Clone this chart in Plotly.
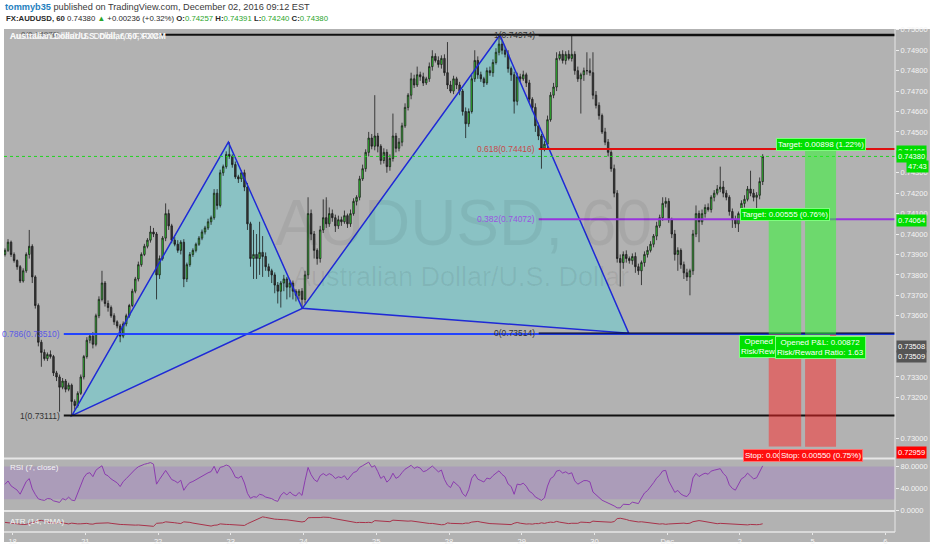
import numpy as np
import plotly.graph_objects as go

# ---------------- data ----------------
first_open_e5 = 73900
closes_e5 = [
    73920, 73960, 73900, 73870, 73840, 73770, 73820, 73900, 73940, 73790,
    73650, 73470, 73420, 73390, 73410, 73400, 73320, 73300, 73250, 73280,
    73240, 73260, 73180, 73160, 73220, 73300, 73400, 73480, 73500, 73460,
    73600, 73680, 73760, 73660, 73640, 73600, 73570, 73550, 73500, 73560,
    73600, 73650, 73720, 73780, 73850, 73900, 73940, 73970, 74010, 74000,
    73800, 73880, 73980, 74100, 74040, 73970, 73950, 73920, 73960, 73780,
    73850, 73900, 73920, 73950, 73980, 74010, 74030, 74060, 74080, 74200,
    74140, 74300, 74330, 74390, 74380, 74340, 74280, 74270, 74300, 74230,
    74050, 73880, 73900, 73880, 73910, 73890, 73840, 73820, 73800, 73750,
    73720, 73760, 73780, 73740, 73760, 73720, 73700, 73720, 73680, 73800,
    74100, 74000, 73920, 73880, 74020, 74080, 74050, 74100, 74080, 74040,
    74070, 74060, 74090, 74050, 74100, 74160, 74180, 74270, 74320, 74400,
    74470, 74430, 74480, 74430, 74360, 74400, 74330, 74370, 74480, 74420,
    74450, 74530, 74620, 74680, 74760, 74730, 74780, 74770, 74740, 74760,
    74820, 74870, 74850, 74830, 74860, 74790, 74730, 74700, 74760, 74730,
    74700, 74600, 74540, 74600, 74760, 74850, 74780, 74760, 74740, 74800,
    74790, 74840, 74890, 74930, 74900, 74880, 74810, 74780, 74650, 74770,
    74760, 74780, 74740, 74660, 74620, 74530, 74480, 74420, 74440, 74560,
    74680, 74720, 74860, 74880, 74850, 74880, 74860, 74880, 74800, 74760,
    74780, 74800, 74800, 74790, 74680, 74630, 74580, 74500, 74450, 74400,
    74320, 74200, 73880, 73860, 73900, 73880, 73870, 73890, 73840, 73820,
    73860, 73900, 73920, 73950, 73990, 74040, 74080, 74150, 74160, 74070,
    74000, 73900, 73920, 73850, 73810, 73790, 73820, 74000, 74100, 74060,
    74100, 74130, 74120, 74180, 74200, 74220, 74230, 74200, 74180, 74110,
    74070, 74050, 74100, 74150, 74170, 74220, 74200, 74180, 74190, 74257,
    74380,
]
upper_wick_e5 = [
    10, 15, 8, 10, 6, 8, 12, 10, 80, 10,
    8, 10, 12, 15, 10, 20, 8, 10, 12, 15,
    10, 12, 8, 10, 10, 12, 8, 15, 10, 20,
    10, 15, 60, 10, 15, 10, 12, 8, 10, 12,
    10, 8, 12, 10, 15, 10, 12, 10, 30, 20,
    10, 15, 10, 50, 20, 10, 15, 20, 10, 15,
    10, 12, 10, 8, 10, 12, 10, 15, 10, 20,
    20, 15, 10, 15, 60, 10, 15, 10, 12, 15,
    20, 10, 120, 100, 150, 80, 20, 15, 10, 12,
    15, 10, 20, 10, 15, 12, 10, 10, 15, 20,
    80, 20, 15, 10, 20, 90, 100, 30, 20, 15,
    20, 15, 25, 10, 20, 15, 10, 15, 20, 15,
    30, 20, 200, 15, 10, 20, 15, 20, 110, 15,
    20, 15, 20, 10, 30, 20, 40, 15, 20, 10,
    20, 30, 15, 20, 15, 20, 150, 20, 15, 10,
    15, 10, 20, 15, 20, 50, 20, 15, 10, 15,
    20, 15, 20, 44, 20, 15, 20, 10, 15, 20,
    15, 20, 10, 15, 10, 20, 15, 10, 15, 20,
    15, 20, 30, 15, 20, 15, 20, 90, 15, 20,
    10, 15, 90, 60, 100, 20, 15, 10, 20, 15,
    10, 20, 15, 20, 15, 20, 10, 15, 20, 15,
    10, 15, 20, 15, 10, 20, 15, 30, 20, 15,
    10, 20, 15, 10, 15, 20, 10, 20, 40, 15,
    20, 15, 20, 10, 15, 20, 100, 30, 15, 10,
    15, 20, 10, 15, 20, 15, 90, 20, 15, 20,
    11,
]
lower_wick_e5 = [
    10, 8, 12, 10, 15, 10, 8, 10, 20, 30,
    15, 20, 70, 10, 12, 10, 15, 20, 120, 10,
    15, 10, 69, 20, 10, 8, 12, 10, 15, 20,
    10, 12, 10, 15, 20, 10, 15, 12, 30, 10,
    12, 10, 8, 10, 12, 10, 8, 10, 12, 15,
    120, 20, 10, 15, 20, 15, 10, 12, 20, 40,
    15, 10, 12, 10, 8, 10, 12, 10, 15, 10,
    20, 10, 15, 10, 12, 15, 10, 20, 15, 20,
    30, 40, 100, 100, 80, 100, 20, 30, 40, 40,
    60, 80, 40, 60, 50, 40, 30, 20, 40, 20,
    20, 30, 40, 30, 20, 15, 20, 15, 20, 30,
    15, 20, 10, 20, 15, 10, 20, 15, 10, 15,
    20, 15, 20, 30, 20, 15, 30, 20, 15, 20,
    15, 20, 10, 15, 20, 15, 10, 20, 15, 10,
    15, 20, 10, 15, 20, 15, 20, 10, 15, 20,
    20, 20, 70, 15, 10, 15, 20, 15, 20, 10,
    15, 20, 10, 15, 20, 15, 20, 30, 60, 20,
    15, 10, 20, 15, 20, 30, 20, 100, 15, 20,
    10, 15, 20, 10, 15, 20, 10, 15, 20, 15,
    170, 30, 20, 15, 20, 15, 20, 10, 15, 20,
    15, 20, 20, 117, 30, 20, 15, 20, 30, 20,
    70, 20, 15, 10, 15, 20, 10, 15, 20, 15,
    20, 30, 80, 20, 30, 20, 90, 20, 15, 100,
    15, 20, 10, 15, 20, 10, 15, 20, 15, 20,
    40, 20, 40, 15, 20, 10, 15, 20, 70, 20,
    17,
]

day_boundary_bars = [2.5, 26.5, 50.5, 74.5, 98.5, 122.5, 146.5, 170.5, 194.5, 218.5, 242.5, 266.5, 290.5]
day_labels = ['18', '21', '22', '23', '24', '25', '28', '29', '30', 'Dec', '2', '5', '6']

price_ticks = [0.730, 0.732, 0.733, 0.736, 0.737, 0.738, 0.739, 0.740, 0.741, 0.742,
               0.743, 0.745, 0.746, 0.747, 0.748, 0.749, 0.750]
rsi_ticks = [0, 40, 80]
rsi_band = [20, 80]

pattern_names = ['X', 'A', 'B', 'C', 'D']
pattern_bars = [22.06, 73.7, 98.1, 163.3, 205.8]
pattern_prices = [0.73111, 0.74450, 0.73636, 0.74974, 0.73514]

fib1_levels = ['1', '0.786', '0']
fib1_prices = [0.73111, 0.73510, 0.74976]
fib1_start_bar = 19.4
fib2_levels = ['1', '0.618', '0.382', '0']
fib2_prices = [0.74974, 0.74416, 0.74072, 0.73514]
fib2_start_bar = 176.1

pos_start_bars = [252.0, 264.0]
pos_end_bars = [262.7, 274.2]
pos_entry = [0.73509, 0.73508]
pos_target = [0.74064, 0.74406]
pos_stop = [0.72959, 0.72958]

last_change = 0.00236
last_change_pct = 0.32
countdown = '47:43'

# ---------------- derived series ----------------
closes = np.array(closes_e5) / 1e5
opens = np.concatenate([[first_open_e5 / 1e5], closes[:-1]])
highs = np.maximum(opens, closes) + np.array(upper_wick_e5) / 1e5
lows = np.minimum(opens, closes) - np.array(lower_wick_e5) / 1e5
bars = np.arange(len(closes))
N = len(closes)

# RSI(7) with Wilder smoothing
n = 7
delta = np.diff(closes, prepend=closes[0])
gains = np.clip(delta, 0, None)
losses = np.clip(-delta, 0, None)
ag = np.zeros(N); al = np.zeros(N)
ag[0] = gains[1:n + 1].mean(); al[0] = losses[1:n + 1].mean()
for i in range(1, N):
    ag[i] = (ag[i - 1] * (n - 1) + gains[i]) / n
    al[i] = (al[i - 1] * (n - 1) + losses[i]) / n
rsi = 100 - 100 / (1 + ag / np.where(al == 0, 1e-12, al))

# ATR(14) with RMA
m = 14
prev_close = np.concatenate([[opens[0]], closes[:-1]])
tr = np.maximum(highs - lows, np.maximum(np.abs(highs - prev_close), np.abs(lows - prev_close)))
atr = np.zeros(N)
atr[0] = tr[:m].mean()
for i in range(1, N):
    atr[i] = (atr[i - 1] * (m - 1) + tr[i]) / m

last_o, last_h, last_l, last_c = opens[-1], highs[-1], lows[-1], closes[-1]

# ---------------- layout helpers ----------------
W, H = 932, 550
ML, MR, MT, MB = 4, 35, 29, 15
PW = W - ML - MR
PH = H - MT - MB
FONT = 'Liberation Sans, Arial, sans-serif'
GREY = '#b2b2b2'
XMIN, XMAX = -0.33, 293.66


def px(x):
    return (x - ML) / PW


def py(y):
    return (H - MB - y) / PH


fig = go.Figure()
fig.add_trace(go.Candlestick(
    x=bars, open=opens, high=highs, low=lows, close=closes, xaxis='x', yaxis='y',
    increasing=dict(fillcolor='#35e035', line=dict(color='#1c1c1c', width=0.8)),
    decreasing=dict(fillcolor='#3d3d3d', line=dict(color='#1c1c1c', width=0.8)),
    whiskerwidth=0, showlegend=False, hoverinfo='skip'))
fig.add_trace(go.Scatter(x=bars, y=rsi, xaxis='x', yaxis='y2', mode='lines',
                         line=dict(color='#8b3cae', width=1), showlegend=False, hoverinfo='skip'))
fig.add_trace(go.Scatter(x=bars, y=atr, xaxis='x', yaxis='y3', mode='lines',
                         line=dict(color='#a8324a', width=1), showlegend=False, hoverinfo='skip'))

shapes = []
annotations = []

# background
shapes.append(dict(type='rect', xref='paper', yref='paper', x0=px(4), x1=px(932), y0=py(545), y1=py(29),
                   fillcolor=GREY, line=dict(width=0), layer='below'))

# RSI band
shapes.append(dict(type='rect', xref='x', yref='y2', x0=XMIN, x1=XMAX, y0=rsi_band[0], y1=rsi_band[1],
                   fillcolor='rgba(153,102,204,0.28)', line=dict(width=0), layer='below'))

# harmonic pattern fills and outlines
P = list(zip(pattern_bars, pattern_prices))
for tri in [(0, 1, 2), (2, 3, 4)]:
    path = 'M {},{} L {},{} L {},{} Z'.format(P[tri[0]][0], P[tri[0]][1], P[tri[1]][0], P[tri[1]][1],
                                              P[tri[2]][0], P[tri[2]][1])
    shapes.append(dict(type='path', xref='x', yref='y', path=path, fillcolor='rgba(64,224,230,0.35)',
                       line=dict(width=0), layer='below'))
    shapes.append(dict(type='path', xref='x', yref='y', path=path, line=dict(color='#1f2ad6', width=1.5),
                       layer='above'))

# current price dotted line
shapes.append(dict(type='line', xref='x', yref='y', x0=XMIN, x1=XMAX, y0=last_c, y1=last_c,
                   line=dict(color='#1fd51f', width=1, dash='dot')))

# fib 1 (X -> C)
fib1_colors = ['#111111', '#2244ff', '#111111']
fib1_text = ['#333333', '#5a5ae6', '#333333']
for lvl, pr, col, tc in zip(fib1_levels, fib1_prices, fib1_colors, fib1_text):
    shapes.append(dict(type='line', xref='x', yref='y', x0=fib1_start_bar, x1=XMAX, y0=pr, y1=pr,
                       line=dict(color=col, width=2)))
# fib 2 (D -> C)
fib2_colors = ['#111111', '#e01010', '#9933dd', 'rgba(10,10,40,0.7)']
fib2_text = ['#333333', '#c84a4a', '#9a55e0', '#333333']
for lvl, pr, col in zip(fib2_levels, fib2_prices, fib2_colors):
    shapes.append(dict(type='line', xref='x', yref='y', x0=fib2_start_bar, x1=XMAX, y0=pr, y1=pr,
                       line=dict(color=col, width=2)))

# position tools
for s, e, en, tg, st in zip(pos_start_bars, pos_end_bars, pos_entry, pos_target, pos_stop):
    shapes.append(dict(type='rect', xref='x', yref='y', x0=s, x1=e, y0=en, y1=tg,
                       fillcolor='rgba(40,255,40,0.5)', line=dict(width=0)))
    shapes.append(dict(type='rect', xref='x', yref='y', x0=s, x1=e, y0=st, y1=en,
                       fillcolor='rgba(255,40,40,0.5)', line=dict(width=0)))

# separators
for yy, wd in [(461, 2), (514, 2), (535, 1.5)]:
    shapes.append(dict(type='line', xref='paper', yref='paper', x0=px(4), x1=px(897), y0=py(yy), y1=py(yy),
                       line=dict(color='#e6e6e6', width=wd)))
shapes.append(dict(type='line', xref='paper', yref='paper', x0=px(897), x1=px(897), y0=py(535), y1=py(29),
                   line=dict(color='#e6e6e6', width=1)))

# watermark
annotations.append(dict(text='AUDUSD, 60', xref='paper', yref='paper', x=px(465), y=py(224),
                        showarrow=False, font=dict(family=FONT, size=64, color='rgba(0,0,0,0.06)')))
annotations.append(dict(text='Australian Dollar/U.S. Dollar', xref='paper', yref='paper', x=px(462), y=py(278),
                        showarrow=False, font=dict(family=FONT, size=27, color='rgba(0,0,0,0.06)')))

# fib labels
for lvl, pr, tc in zip(fib1_levels, fib1_prices, fib1_text):
    if lvl == '0':
        continue
    annotations.append(dict(text='{}({:.5f})'.format(lvl, pr), xref='x', yref='y', x=fib1_start_bar, y=pr,
                            xanchor='right', yanchor='middle', xshift=-2, showarrow=False,
                            font=dict(family=FONT, size=8.5, color=tc)))
for lvl, pr, tc in zip(fib2_levels, fib2_prices, fib2_text):
    annotations.append(dict(text='{}({:.5f})'.format(lvl, pr), xref='x', yref='y', x=fib2_start_bar, y=pr,
                            xanchor='right', yanchor='middle', xshift=-2, showarrow=False,
                            font=dict(family=FONT, size=8.5, color=tc)))

# panel title (box), top fib label, title text
title_txt = 'Australian Dollar/U.S. Dollar, 60, FXCM'
annotations.append(dict(text=title_txt, xref='paper', yref='paper', x=px(8), y=py(36), xanchor='left',
                        yanchor='middle', showarrow=False, bgcolor=GREY, borderpad=1,
                        font=dict(family=FONT, size=8.5, color='#f8f8f8')))
annotations.append(dict(text='{}({:.5f})'.format(fib1_levels[2], fib1_prices[2]), xref='x', yref='y',
                        x=fib1_start_bar, y=fib1_prices[2], xanchor='right', yanchor='middle', xshift=-2,
                        showarrow=False, font=dict(family=FONT, size=8, color='#555555')))
annotations.append(dict(text='<b>' + title_txt + '</b>', xref='paper', yref='paper', x=px(8), y=py(36),
                        xanchor='left', yanchor='middle', showarrow=False,
                        font=dict(family=FONT, size=8.5, color='#f8f8f8')))

# position labels
GREEN_BG, GREEN_BD = '#00e000', '#7dff7d'
RED_BG, RED_BD = '#ff1010', '#ff7070'
lab_font = dict(family=FONT, size=8, color='white')
for s, e, en, tg, st in zip(pos_start_bars, pos_end_bars, pos_entry, pos_target, pos_stop):
    cx = (s + e) / 2
    reward = tg - en
    annotations.append(dict(text='Target: {:.5f} ({:.2f}%)'.format(reward, reward / en * 100), xref='x', yref='y',
                            x=cx, y=tg, yanchor='bottom', showarrow=False, bgcolor=GREEN_BG, bordercolor=GREEN_BD,
                            borderwidth=1, borderpad=1, font=lab_font))
for s, e, en, tg, st in zip(pos_start_bars, pos_end_bars, pos_entry, pos_target, pos_stop):
    cx = (s + e) / 2
    reward = tg - en
    risk = en - st
    annotations.append(dict(text='Opened P&amp;L: {:.5f}<br>Risk/Reward Ratio: {:.2f}'.format(last_c - en, reward / risk),
                            xref='x', yref='y', x=cx, y=en, yanchor='top', yshift=-1, showarrow=False,
                            bgcolor=GREEN_BG, bordercolor=GREEN_BD, borderwidth=1, borderpad=1, font=lab_font))
    annotations.append(dict(text='Stop: {:.5f} ({:.2f}%)'.format(risk, risk / en * 100), xref='x', yref='y',
                            x=cx, y=st, yanchor='top', yshift=-2, showarrow=False, bgcolor=RED_BG,
                            bordercolor=RED_BD, borderwidth=1, borderpad=1, font=lab_font))

# right-axis price tags
tag_font = dict(family=FONT, size=7.5, color='white')
tags = [
    (pos_target[1], '#00dd00', 0),
    (last_c, '#00dd00', 0),
    (pos_target[0], '#00dd00', 0),
    (pos_entry[1], '#555555', -12),
    (pos_entry[0], '#555555', -22),
    (pos_stop[0], '#ff0000', -6),
]
for val, col, ysh in tags:
    annotations.append(dict(text='{:.5f}'.format(val), xref='paper', yref='y', x=px(898), y=val, yshift=ysh,
                            xanchor='left', yanchor='middle', showarrow=False, bgcolor=col, borderpad=1,
                            font=tag_font))
annotations.append(dict(text=countdown, xref='paper', yref='y', x=px(931), y=last_c, yshift=-10,
                        xanchor='right', yanchor='middle', showarrow=False, bgcolor='#00dd00', borderpad=1,
                        font=tag_font))

# indicator labels
annotations.append(dict(text='RSI (7, close)', xref='paper', yref='paper', x=px(8), y=py(470), xanchor='left',
                        yanchor='middle', showarrow=False, font=dict(family=FONT, size=8, color='#f4f4f4')))
annotations.append(dict(text='ATR (14, RMA)', xref='paper', yref='paper', x=px(8), y=py(524), xanchor='left',
                        yanchor='middle', showarrow=False, font=dict(family=FONT, size=8, color='#f4f4f4')))

# header
G = '#2aa52a'
annotations.append(dict(
    text='<b><span style="color:#1f7fc0">tommyb35</span></b> published on TradingView.com, December 02, 2016 09:12 EST',
    xref='paper', yref='paper', x=px(3), y=py(7), xanchor='left', yanchor='middle', showarrow=False,
    font=dict(family=FONT, size=9.2, color='#3a3a3a')))
hdr2 = ('<b>FX:AUDUSD, 60</b> {c:.5f} <span style="color:{g}">&#9650;</span> +{ch:.5f} (+{pct:.2f}%) '
        '<b>O:</b><span style="color:{g}">{o:.5f}</span> <b>H:</b><span style="color:{g}">{h:.5f}</span> '
        '<b>L:</b><span style="color:{g}">{l:.5f}</span> <b>C:</b><span style="color:{g}">{c:.5f}</span>').format(
    c=last_c, g=G, ch=last_change, pct=last_change_pct, o=last_o, h=last_h, l=last_l)
annotations.append(dict(text=hdr2, xref='paper', yref='paper', x=px(4), y=py(18), xanchor='left',
                        yanchor='middle', showarrow=False, font=dict(family=FONT, size=7.8, color='#2a2a2a')))

axis_font = dict(family=FONT, size=7.5, color='#f4f4f4')
fig.update_layout(
    width=W, height=H, autosize=False,
    margin=dict(l=ML, r=MR, t=MT, b=MB, pad=0),
    paper_bgcolor='white', plot_bgcolor=GREY,
    showlegend=False, hovermode=False, dragmode=False,
    xaxis=dict(domain=[0, 1], range=[XMIN, XMAX], anchor='y3', tickvals=day_boundary_bars, ticktext=day_labels,
               tickfont=axis_font, ticks='outside', ticklen=2, tickcolor='#e8e8e8', showgrid=False,
               zeroline=False, showline=False, rangeslider=dict(visible=False), fixedrange=True),
    yaxis=dict(domain=[py(460), 1], range=[0.72906, 0.75004], side='right', anchor='x', tickvals=price_ticks,
               tickformat='.5f', tickfont=axis_font, ticks='outside', ticklen=3, tickcolor='#eeeeee',
               showgrid=False, zeroline=False, showline=False),
    yaxis2=dict(domain=[py(513), py(462)], range=[0, 92.7], side='right', anchor='x', tickvals=rsi_ticks,
                tickformat='.4f', tickfont=axis_font, ticks='outside', ticklen=3, tickcolor='#eeeeee',
                showgrid=False, zeroline=False, showline=False),
    yaxis3=dict(domain=[0, py(515)], range=[atr.min() - 0.6 * (atr.max() - atr.min()),
                                             atr.max() + 0.5 * (atr.max() - atr.min())],
                side='right', anchor='x', showticklabels=False, showgrid=False, zeroline=False, showline=False),
    shapes=shapes, annotations=annotations,
)

fig.write_html('out.html', config={'displayModeBar': False, 'staticPlot': True},
               post_script="document.body.style.margin='0';document.body.style.overflow='hidden';")
